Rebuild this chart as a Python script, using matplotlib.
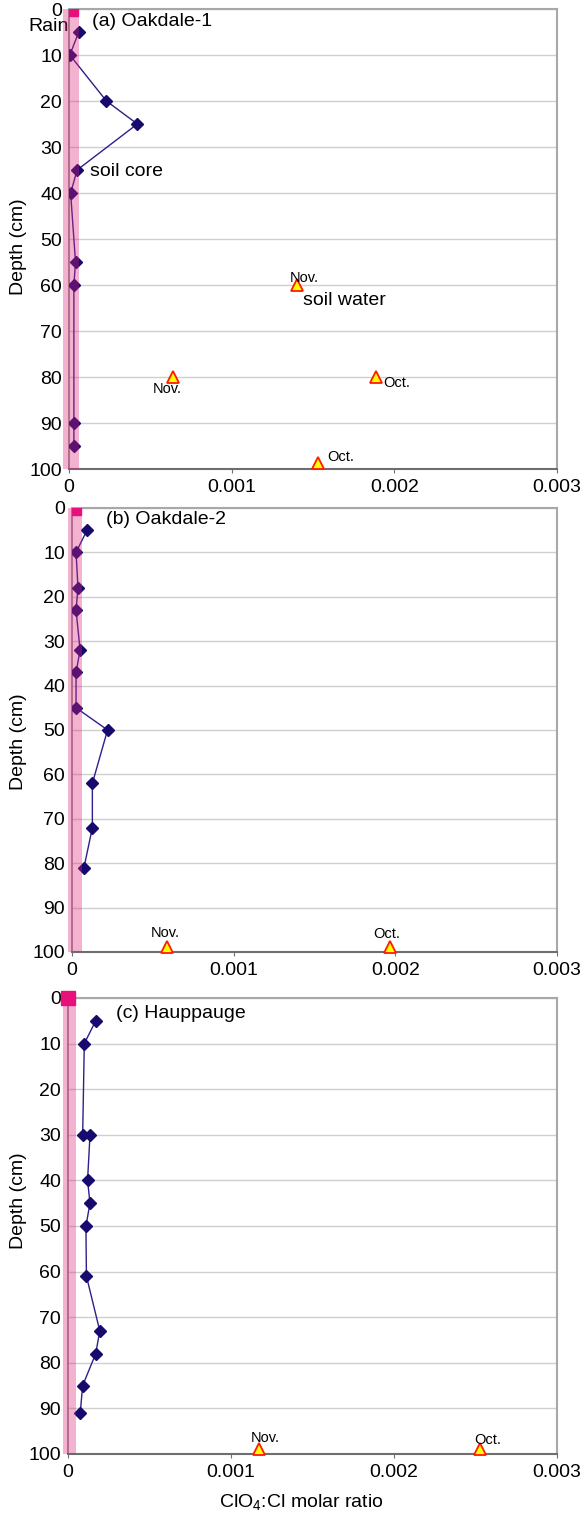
import matplotlib
matplotlib.use("Agg")
import matplotlib.pyplot as plt

plt.rcParams['font.family'] = ['Liberation Sans', 'DejaVu Sans']
plt.rcParams['mathtext.fontset'] = 'custom'
plt.rcParams['mathtext.rm'] = 'Liberation Sans'

W, H = 581, 1515

# soil core profiles (ClO4:Cl molar ratio vs depth in cm)
core_depth_a = [5, 10, 20, 25, 35, 40, 55, 60, 90, 95]
core_ratio_a = [0.00006, 0.000005, 0.00023, 0.00042, 0.00005, 0.00001, 0.00004, 0.00003, 0.00003, 0.00003]

core_depth_b = [5, 10, 18, 23, 32, 37, 45, 50, 62, 72, 81]
core_ratio_b = [0.000093, 0.000025, 0.000037, 0.000025, 0.00005, 0.000025, 0.000025, 0.00022, 0.000126, 0.000126, 0.000074]

core_depth_c = [5, 10, 30, 30, 40, 45, 50, 61, 73, 78, 85, 91]
core_ratio_c = [0.00017, 0.0001, 0.00009, 0.000135, 0.00012, 0.000135, 0.00011, 0.000113, 0.000195, 0.00017, 0.00009, 0.000075]

# soil water samples
water_ratio_a = [0.0014, 0.00064, 0.00189, 0.00153]
water_depth_a = [60, 80, 80, 98.7]
water_month_a = ["Nov.", "Nov.", "Oct.", "Oct."]

water_ratio_b = [0.00059, 0.00197]
water_depth_b = [98.9, 98.9]
water_month_b = ["Nov.", "Oct."]

water_ratio_c = [0.00117, 0.00253]
water_depth_c = [98.9, 98.9]
water_month_c = ["Nov.", "Oct."]

# rain ratio and its range
rain_ratio = [0.00001, 0.00001, 0.0]
rain_lo = [-0.000037, -0.000025, -0.00003]
rain_hi = [0.000061, 0.00006, 0.00005]

panel_titles = ["(a) Oakdale-1", "(b) Oakdale-2", "(c) Hauppauge"]
x_ticks = [0, 0.001, 0.002, 0.003]
x_ticklabels = ["0", "0.001", "0.002", "0.003"]
y_ticks = list(range(0, 101, 10))

# axes boxes in pixels: left, right, top, bottom
boxes = [(69, 557, 9, 469), (72, 557, 508, 952), (68, 557, 998, 1454)]
title_pos = [(0.00014, 2.8), (0.00021, 2.7), (0.000294, 3.5)]
ylabel_y = [247, 742, 1201]
rain_clip = [True, True, False]
# label offsets in pixels for each soil water point
month_offsets = [
    [(8, 7), (-6, -12), (20, -6), (23, 6)],
    [(-2, 14), (-4, 13)],
    [(7, 11), (7, 9)],
]

cores = [(core_ratio_a, core_depth_a), (core_ratio_b, core_depth_b), (core_ratio_c, core_depth_c)]
waters = [(water_ratio_a, water_depth_a, water_month_a),
          (water_ratio_b, water_depth_b, water_month_b),
          (water_ratio_c, water_depth_c, water_month_c)]

fig = plt.figure(figsize=(W / 100, H / 100), dpi=100)

for i in range(3):
    l, r, t, b = boxes[i]
    ax = fig.add_axes([l / W, 1 - b / H, (r - l) / W, (b - t) / H])
    ax.set_xlim(0, 0.003)
    ax.set_ylim(100, 0)
    ax.set_axisbelow(True)
    ax.grid(True, axis='y', color='#cfcfcf', linewidth=1.0)

    xs, ys = cores[i]
    ax.plot(xs, ys, color='#2e1f8a', linewidth=1.0, marker='D', markersize=6.5,
            markerfacecolor='#170a6e', markeredgecolor='#170a6e', zorder=3)

    wx, wy, wm = waters[i]
    ax.plot(wx, wy, linestyle='none', marker='^', markersize=9,
            markerfacecolor='#ffff00', markeredgecolor='#ff1a00', markeredgewidth=1.3,
            zorder=4, clip_on=False)
    for x, y, m, off in zip(wx, wy, wm, month_offsets[i]):
        ax.annotate(m, (x, y), xytext=off, textcoords='offset pixels',
                    ha='center', va='center', fontsize=10.5, zorder=6)

    # rain range band, drawn over the profile
    ax.fill_betweenx([0, 100], rain_lo[i], rain_hi[i], color='#df2379', alpha=0.35,
                     linewidth=0, zorder=5, clip_on=False)
    ax.plot([rain_ratio[i]], [0], linestyle='none', marker='s', markersize=10,
            color='#e8107a', zorder=7, clip_on=rain_clip[i])

    tx, ty = title_pos[i]
    ax.text(tx, ty, panel_titles[i], fontsize=14, ha='left', va='center')

    ax.set_xticks(x_ticks)
    ax.set_xticklabels(x_ticklabels)
    ax.set_yticks(y_ticks)
    ax.tick_params(axis='x', labelsize=14, length=3, color='#707070', pad=4)
    ax.tick_params(axis='y', labelsize=14, length=0, pad=5)

    for side in ['top', 'right']:
        ax.spines[side].set_color('#a8a8a8')
        ax.spines[side].set_linewidth(1.5)
    ax.spines['left'].set_color('#858585')
    ax.spines['left'].set_linewidth(1.2)
    ax.spines['bottom'].set_color('#6e6e6e')
    ax.spines['bottom'].set_linewidth(1.5)

    fig.text(19 / W, 1 - ylabel_y[i] / H, "Depth (cm)", rotation=90,
             ha='center', va='center', fontsize=14)

    if i == 0:
        ax.text(-0.000002, 3.9, "Rain", fontsize=14, ha='right', va='center', clip_on=False)
        ax.text(0.000129, 35.4, "soil core", fontsize=14, ha='left', va='center')
        ax.text(0.001436, 63.3, "soil water", fontsize=14, ha='left', va='center')

fig.text(301 / W, 1 - 1503 / H, r"ClO$_\mathregular{4}$:Cl molar ratio",
         ha='center', va='center', fontsize=14)

fig.savefig("out.png", dpi=100)
